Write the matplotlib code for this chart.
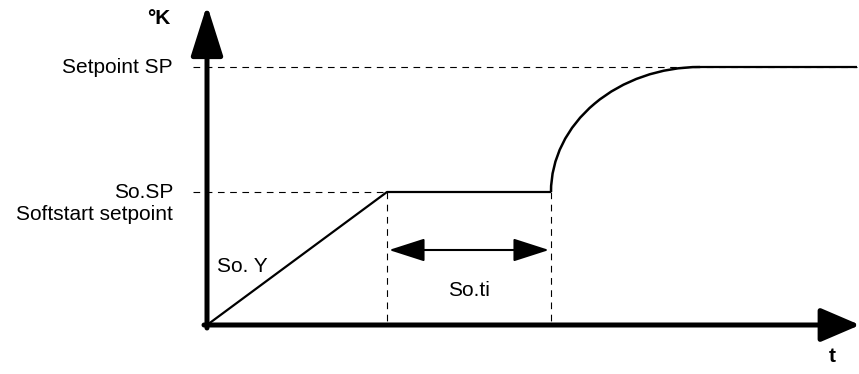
import matplotlib.pyplot as plt
from matplotlib.patches import Arc

plt.rcParams['font.family'] = ['Liberation Sans', 'DejaVu Sans']

# schematic values (time / temperature units, origin at the axes crossing)
t_ramp_end = 180     # end of the So. Y ramp
t_hold_end = 344     # end of soft start hold (So.ti)
t_reach = 493        # setpoint reached
t_end = 650
soft_sp = 133        # So.SP
setpoint = 258       # Setpoint SP

ramp_t = [0, t_ramp_end, t_hold_end]
ramp_y = [0, soft_sp, soft_sp]
flat_t = [t_reach, t_end]
flat_y = [setpoint, setpoint]

level_labels = ["Setpoint SP", "So.SP"]
level_values = [setpoint, soft_sp]

fig = plt.figure(figsize=(8.59, 3.74), dpi=100)
ax = fig.add_axes([0, 0, 1, 1])
ax.set_xlim(-207, 652)
ax.set_ylim(-49, 325)
ax.axis("off")

# dashed guide lines
ax.plot([-14, t_end], [setpoint, setpoint], color="black", lw=0.8, dashes=(6, 5))
ax.plot([-14, t_ramp_end], [soft_sp, soft_sp], color="black", lw=0.8, dashes=(6, 5))
ax.plot([t_ramp_end, t_ramp_end], [soft_sp, 0], color="black", lw=0.8, dashes=(6, 5))
ax.plot([t_hold_end, t_hold_end], [soft_sp, 0], color="black", lw=0.8, dashes=(6, 5))

# process curve
ax.plot(ramp_t, ramp_y, color="black", lw=1.6, solid_capstyle="butt")
ax.plot(flat_t, flat_y, color="black", lw=1.6, solid_capstyle="butt")
ax.add_patch(Arc((t_reach, soft_sp), 2 * (t_reach - t_hold_end), 2 * (setpoint - soft_sp),
                 theta1=90, theta2=180, color="black", lw=1.8))

# axes arrows
ax.annotate("", xy=(0, 320), xytext=(0, -3), annotation_clip=False,
            arrowprops=dict(arrowstyle="-|>,head_length=1.2,head_width=0.38", mutation_scale=26,
                            lw=3.6, color="black", shrinkA=0, shrinkB=0))
ax.annotate("", xy=(653, 0), xytext=(-3, 0), annotation_clip=False,
            arrowprops=dict(arrowstyle="-|>,head_length=1.05,head_width=0.45", mutation_scale=23,
                            lw=3.6, color="black", shrinkA=0, shrinkB=0))

# So.ti span arrow
ax.annotate("", xy=(t_hold_end - 2, 75), xytext=(t_ramp_end + 2, 75),
            arrowprops=dict(arrowstyle="<|-|>,head_length=1.4,head_width=0.45", mutation_scale=16,
                            lw=1.5, color="black", shrinkA=0, shrinkB=0))

# labels
fs = 15
for lab, val in zip(level_labels, level_values):
    ax.text(-34, val, lab, ha="right", va="center", fontsize=fs)
ax.text(-34, soft_sp - 22, "Softstart setpoint", ha="right", va="center", fontsize=fs)
ax.text(10, 59, "So. Y", ha="left", va="center", fontsize=fs)
ax.text((t_ramp_end + t_hold_end) / 2, 34, "So.ti", ha="center", va="center", fontsize=fs)
ax.text(625, -31, "t", ha="center", va="center", fontsize=fs, fontweight="bold")
ax.text(-48, 307, "°K", ha="center", va="center", fontsize=fs, fontweight="bold")

fig.savefig("out.png", dpi=100)
